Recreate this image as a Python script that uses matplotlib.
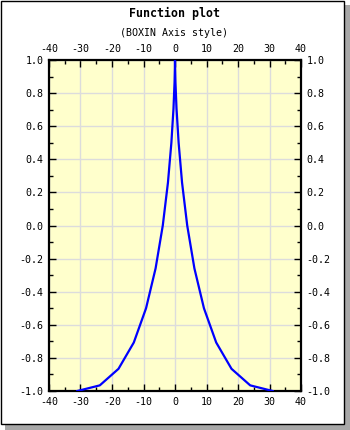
import matplotlib
matplotlib.use("Agg")
import matplotlib.pyplot as plt
from matplotlib.patches import Rectangle
from matplotlib.ticker import MultipleLocator

# Data
x_vals = [-31.01, -23.88, -17.94, -13.08, -9.19, -6.16, -3.88, -2.24, -1.15, -0.48,
          -0.14, -0.02, 0.0, 0.02, 0.14, 0.48, 1.15, 2.24, 3.88, 6.16, 9.19, 13.08,
          17.94, 23.88, 31.01]
y_vals = [-1.0, -0.966, -0.866, -0.707, -0.5, -0.259, 0.0, 0.259, 0.5, 0.707,
          0.866, 0.966, 1.0, 0.966, 0.866, 0.707, 0.5, 0.259, 0.0, -0.259, -0.5,
          -0.707, -0.866, -0.966, -1.0]
x_ticks = [-40, -30, -20, -10, 0, 10, 20, 30, 40]
y_ticks = [-1.0, -0.8, -0.6, -0.4, -0.2, 0.0, 0.2, 0.4, 0.6, 0.8, 1.0]
title = "Function plot"
subtitle = "(BOXIN Axis style)"

W, H = 350, 430
fig = plt.figure(figsize=(W / 100, H / 100), dpi=100)
fig.patch.set_facecolor("white")

# Frame with drop shadow
fig.add_artist(Rectangle((5 / W, 0), 345 / W, 425 / H, transform=fig.transFigure,
                         facecolor="#a8a8a8", edgecolor="none", zorder=0))
fig.add_artist(Rectangle((1 / W, 6.5 / H), 343 / W, 422.5 / H, transform=fig.transFigure,
                         facecolor="white", edgecolor="black", linewidth=1.0, zorder=0.5))

mono = "DejaVu Sans Mono"
ax = fig.add_axes([49 / W, (H - 391) / H, 252 / W, 331 / H])
ax.set_zorder(5)
ax.set_facecolor("#FFFFCC")
ax.plot(x_vals, y_vals, color="#0000FF", linewidth=1.6, zorder=3)

ax.set_xlim(-40, 40)
ax.set_ylim(-1.0, 1.0)
ax.set_xticks(x_ticks)
ax.set_yticks(y_ticks)
ax.set_xticklabels([str(v) for v in x_ticks])
ax.set_yticklabels([f"{v:.1f}" for v in y_ticks])
ax.xaxis.set_minor_locator(MultipleLocator(5))
ax.yaxis.set_minor_locator(MultipleLocator(0.1))

ax.grid(True, which="major", color="#dcdcdc", linewidth=1.0, zorder=1)
ax.set_axisbelow(True)

for sp in ax.spines.values():
    sp.set_linewidth(1.6)
    sp.set_color("black")

ax.tick_params(which="both", direction="in", top=True, right=True,
               labeltop=True, labelright=True, color="black")
ax.tick_params(which="major", length=5, width=1.0, pad=4, labelsize=7.2)
ax.tick_params(which="minor", length=3, width=1.0)
for lab in (ax.xaxis.get_majorticklabels() + ax.yaxis.get_majorticklabels()):
    lab.set_family(mono)
for t in ax.xaxis.get_major_ticks() + ax.yaxis.get_major_ticks():
    t.label2.set_family(mono)

fig.text(174.5 / W, 1 - 13 / H, title, ha="center", va="center",
         fontsize=8.4, fontweight="bold", family=mono, zorder=6)
fig.text(174.5 / W, 1 - 32.5 / H, subtitle, ha="center", va="center",
         fontsize=7.2, family=mono, zorder=6)

fig.savefig("out.png", dpi=100)
